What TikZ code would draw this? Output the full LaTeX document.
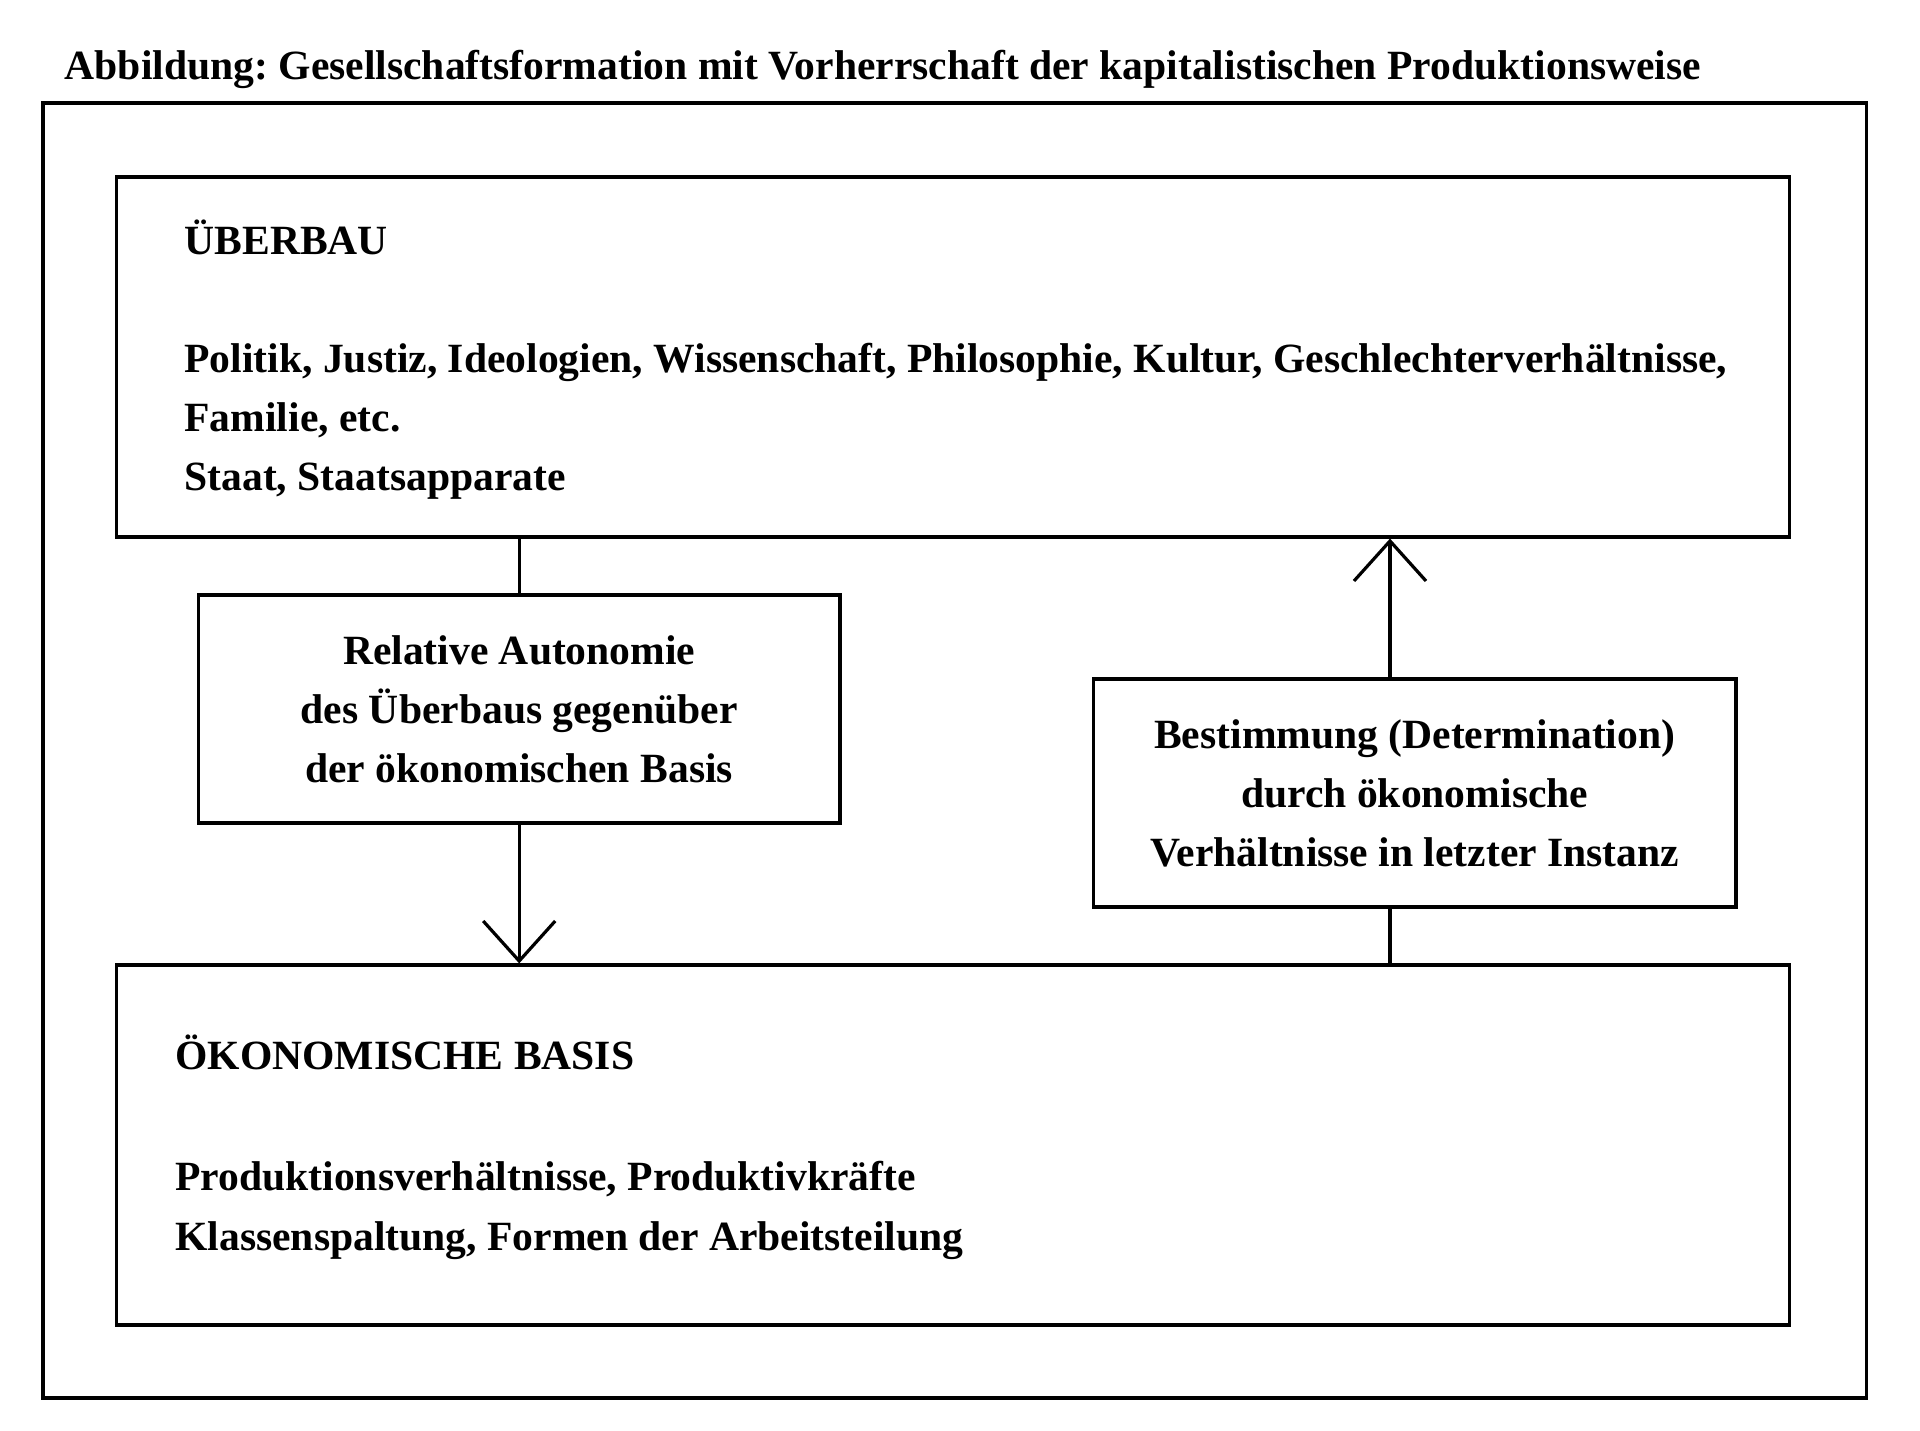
\documentclass[tikz,border=0pt]{standalone}
\usepackage{fontspec}
\setmainfont{Liberation Serif}
\usetikzlibrary{arrows.meta}
\frenchspacing
\begin{document}
\begin{tikzpicture}[x=0.25pt, y=-0.25pt,
  box/.style={rectangle, draw, line width=0.8pt, inner sep=0pt},
  txt/.style={anchor=base west, inner sep=0pt, font=\bfseries\fontsize{10.4}{14.75}\selectfont},
  centred/.style={align=center, font=\bfseries\fontsize{10.4}{14.75}\selectfont},
  link/.style={line width=0.8pt},
  flow/.style={line width=0.8pt, -{Straight Barb[length=10pt, width=18pt]}}]
  \useasboundingbox (0, 0) rectangle (1920, 1431);

  \node (title) [txt, font=\bfseries\fontsize{10.4}{12}\selectfont] at (64, 80) {Abbildung: Gesellschaftsformation mit Vorherrschaft der kapitalistischen Produktionsweise};
  \node (frame) [box, minimum width=455.9pt, minimum height=323.75pt] at (954.7, 750.5) {};

  \node (ueberbau) [box, minimum width=418.3pt, minimum height=90pt] at (952.9, 357) {};
  \node (ueberbau-head) [txt] at (183.7, 254.5) {ÜBERBAU};
  \node (ueberbau-1) [txt] at (183.7, 373) {Politik, Justiz, Ideologien, Wissenschaft, Philosophie, Kultur, Geschlechterverhältnisse,};
  \node (ueberbau-2) [txt] at (183.7, 432) {Familie, etc.};
  \node (ueberbau-3) [txt] at (183.7, 491) {Staat, Staatsapparate};

  \node (basis) [box, minimum width=418.3pt, minimum height=90pt] at (952.9, 1145) {};
  \node (basis-head) [txt] at (174.6, 1069.5) {ÖKONOMISCHE BASIS};
  \node (basis-1) [txt] at (174.6, 1191) {Produktionsverhältnisse, Produktivkräfte};
  \node (basis-2) [txt] at (174.6, 1251) {Klassenspaltung, Formen der Arbeitsteilung};

  \node (autonomie) [box, centred, minimum width=160.4pt, minimum height=57pt] at (519.2, 709) {Relative Autonomie\\des Überbaus gegenüber\\der ökonomischen Basis};
  \node (bestimmung) [box, centred, minimum width=160.6pt, minimum height=57pt] at (1414.75, 793) {Bestimmung (Determination)\\durch ökonomische\\Verhältnisse in letzter Instanz};
  \coordinate (det-axis) at (1390, 0);

  \draw[link] (ueberbau.south -| autonomie.north) -- (autonomie.north);
  \draw[flow] (autonomie.south) -- (basis.north -| autonomie.south);
  \draw[link] (basis.north -| det-axis) -- (bestimmung.south -| det-axis);
  \draw[flow] (bestimmung.north -| det-axis) -- (ueberbau.south -| det-axis);
\end{tikzpicture}
\end{document}
